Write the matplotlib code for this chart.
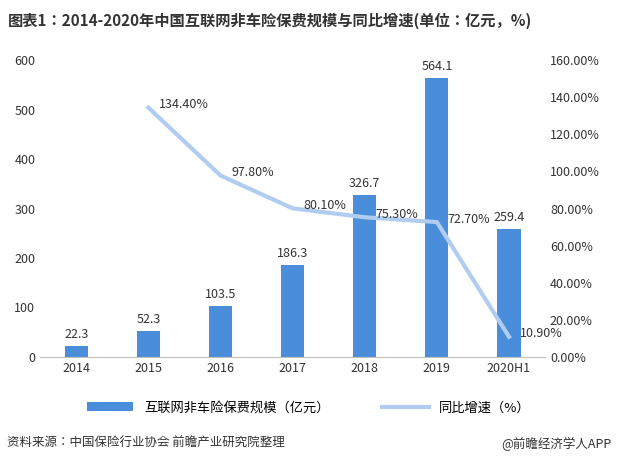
import matplotlib.pyplot as plt

plt.rcParams['font.family'] = 'sans-serif'
plt.rcParams['font.sans-serif'] = ['Noto Sans CJK SC', 'Noto Sans CJK JP', 'DejaVu Sans']

years = ['2014', '2015', '2016', '2017', '2018', '2019', '2020H1']
scale = [22.3, 52.3, 103.5, 186.3, 326.7, 564.1, 259.4]
growth = [None, 134.40, 97.80, 80.10, 75.30, 72.70, 10.90]

fig = plt.figure(figsize=(6.18, 4.66), dpi=100)
ax = fig.add_axes([0.065, 0.234, 0.817, 0.637])
ax2 = ax.twinx()

x = list(range(len(years)))
ax.bar(x, scale, width=0.32, color='#4a8ddb', label='互联网非车险保费规模（亿元）', zorder=2)
for xi, v in zip(x, scale):
    ax.text(xi, v + 10, f'{v:.1f}', ha='center', va='bottom', fontsize=9, color='#333333')

gx = x[1:]
gy = growth[1:]
ax2.plot(gx, gy, color='#b0cdf1', lw=3, label='同比增速（%）', zorder=3)
for xi, v in zip(gx, gy):
    ax2.text(xi + 0.15, v + 1.5, f'{v:.2f}%', ha='left', va='center', fontsize=9, color='#333333', zorder=4)

ax.set_ylim(0, 600)
ax.set_yticks(range(0, 601, 100))
ax2.set_ylim(0, 160)
ax2.set_yticks(range(0, 161, 20))
ax2.set_yticklabels([f'{v:.2f}%' for v in range(0, 161, 20)])
ax.set_xlim(-0.5, 6.5)
ax.set_xticks(x)
ax.set_xticklabels(years)
for a in (ax, ax2):
    for s in a.spines.values():
        s.set_visible(False)
    a.tick_params(length=0, labelsize=9, colors='#333333')
ax.spines['bottom'].set_visible(True)
ax.spines['bottom'].set_color('#bfbfbf')

h1, l1 = ax.get_legend_handles_labels()
h2, l2 = ax2.get_legend_handles_labels()
fig.legend(h1 + h2, l1 + l2, loc='center', bbox_to_anchor=(0.5, 0.125), ncol=2,
           frameon=False, fontsize=9.5, handlelength=3.5, columnspacing=4)

fig.text(0.012, 0.955, '图表1：2014-2020年中国互联网非车险保费规模与同比增速(单位：亿元，%)',
         fontsize=11, fontweight='bold', color='#333333', va='center')
fig.text(0.012, 0.048, '资料来源：中国保险行业协会 前瞻产业研究院整理', fontsize=9, color='#333333', va='center')
fig.text(0.99, 0.048, '@前瞻经济学人APP', fontsize=9, color='#333333', va='center', ha='right')

fig.savefig('out.png', dpi=100)
